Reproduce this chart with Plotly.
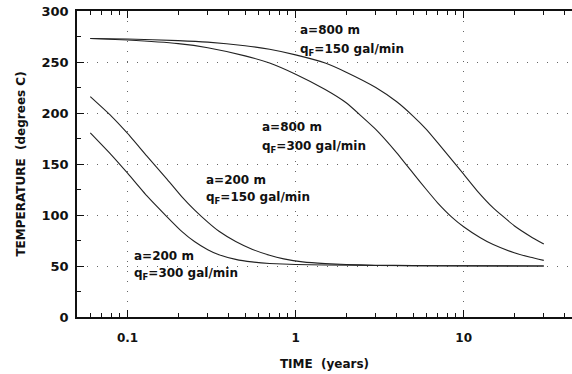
import plotly.graph_objects as go
import math

# Time (years) and temperature (degrees C) for each case
# a=800 m, qF=150 gal/min
t_800_150 = [0.06, 0.1, 0.2, 0.3, 0.5, 0.7, 1, 1.5, 2, 3, 4, 5, 6, 7, 10, 12, 15, 20, 25, 30]
temp_800_150 = [273, 272.5, 271, 269.5, 266, 262.5, 257, 249, 240, 225, 211, 197, 184, 171, 140, 124, 107, 89.5, 79, 71.5]
# a=800 m, qF=300 gal/min
t_800_300 = [0.06, 0.1, 0.2, 0.3, 0.5, 0.7, 1, 1.5, 2, 3, 4, 5, 6, 7, 8.5, 10, 12.5, 15, 20, 25, 30]
temp_800_300 = [273, 271.5, 268, 264, 256, 249, 238, 223, 210, 184, 161, 141, 125, 112, 98, 88.5, 78, 71, 63, 58.5, 55.5]
# a=200 m, qF=150 gal/min
t_200_150 = [0.06, 0.08, 0.1, 0.13, 0.17, 0.21, 0.25, 0.3, 0.35, 0.44, 0.55, 0.7, 0.85, 1.1, 1.5, 2, 3, 5, 10, 30]
temp_200_150 = [216, 197, 180, 158, 136, 118, 105, 93, 84, 74, 66.5, 60.5, 57, 54, 52.3, 51.5, 50.8, 50.4, 50.2, 50]
# a=200 m, qF=300 gal/min
t_200_300 = [0.06, 0.08, 0.1, 0.13, 0.17, 0.21, 0.25, 0.3, 0.35, 0.44, 0.55, 0.7, 1, 1.5, 3, 10, 30]
temp_200_300 = [180.5, 159, 141, 119, 99, 84, 74, 66, 61, 56.5, 54, 52.5, 51.5, 51, 50.5, 50.1, 50]

# Curve labels: (time at left edge, temperature, text)
label_t = [1.03, 1.03, 0.61, 0.61, 0.286, 0.286, 0.106, 0.106]
label_temp = [281, 262, 186, 167, 134, 117, 60, 42]
label_text = ["a=800 m", "q<sub>F</sub>=150 gal/min", "a=800 m", "q<sub>F</sub>=300 gal/min",
              "a=200 m", "q<sub>F</sub>=150 gal/min", "a=200 m", "q<sub>F</sub>=300 gal/min"]

x_tick_vals = [0.1, 1, 10]
x_tick_text = ["0.1", "1", "10"]
x_minor_vals = [0.06, 0.07, 0.08, 0.09, 0.2, 0.3, 0.4, 0.5, 0.6, 0.7, 0.8, 0.9,
                2, 3, 4, 5, 6, 7, 8, 9, 20, 30, 40]
y_tick_vals = [0, 50, 100, 150, 200, 250, 300]

FAM = "DejaVu Sans"
INK = "#111"

fig = go.Figure()
for tx, ty in [(t_800_150, temp_800_150), (t_800_300, temp_800_300),
               (t_200_150, temp_200_150), (t_200_300, temp_200_300)]:
    fig.add_trace(go.Scatter(x=tx, y=ty, mode="lines",
                             line=dict(color="#222", width=1.1, shape="spline", smoothing=0.4),
                             showlegend=False, hoverinfo="skip"))

for lx, ly, txt in zip(label_t, label_temp, label_text):
    fig.add_annotation(x=math.log10(lx), y=ly, text=txt, showarrow=False, xanchor="left", yanchor="middle",
                       font=dict(family=FAM, size=12, color=INK, weight="bold"))

fig.update_layout(
    width=572, height=374,
    margin=dict(l=77, r=0, t=11, b=57),
    paper_bgcolor="white", plot_bgcolor="white",
    font=dict(family=FAM, size=12, color=INK),
    xaxis=dict(type="log", range=[math.log10(0.05), 1.645], tickvals=x_tick_vals, ticktext=x_tick_text,
               automargin=False,
               ticks="inside", ticklen=7, tickwidth=1.3, tickcolor=INK, showline=True, linecolor=INK, linewidth=1.6,
               mirror="ticks", showgrid=True, gridcolor="#666", griddash="1px,9px", gridwidth=1,
               minor=dict(tickvals=x_minor_vals, ticks="inside", ticklen=4, tickwidth=1, tickcolor=INK, showgrid=False),
               tickfont=dict(family=FAM, size=12, color=INK, weight="bold"),
               ticklabelstandoff=9,
               title=dict(text="TIME  (years)", font=dict(family=FAM, size=12, color=INK, weight="bold"), standoff=15),
               zeroline=False),
    yaxis=dict(range=[0, 300], tickvals=y_tick_vals, automargin=False,
               ticks="inside", ticklen=7, tickwidth=1.3, tickcolor=INK, showline=True, linecolor=INK, linewidth=1.6,
               mirror=False, showgrid=True, gridcolor="#666", griddash="1px,9px", gridwidth=1,
               minor=dict(dtick=25, ticks="inside", ticklen=4, tickwidth=1, tickcolor=INK, showgrid=False),
               tickfont=dict(family=FAM, size=13, color=INK, weight="bold"),
               ticklabelstandoff=4, ticklabeloverflow="allow",
               title=dict(text="TEMPERATURE  (degrees C)", font=dict(family=FAM, size=12, color=INK, weight="bold"),
                          standoff=13),
               zeroline=False),
)
fig.write_html("out.html", config={"displayModeBar": False},
               post_script="document.body.style.margin='0';")
